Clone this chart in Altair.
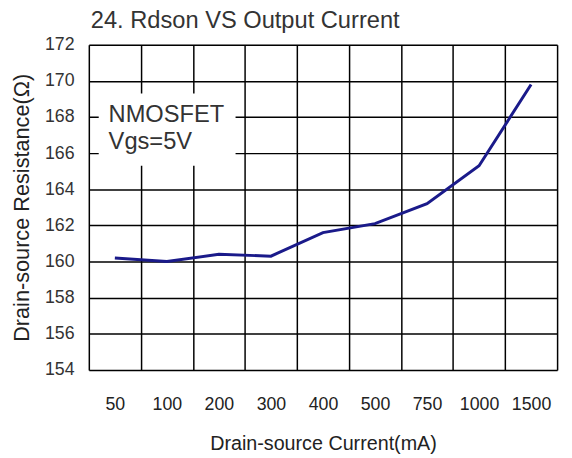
import json
import altair as alt
import pandas as pd

categories = ["50", "100", "200", "300", "400", "500", "750", "1000", "1500"]
rdson = [160.2, 160.0, 160.4, 160.3, 161.6, 162.1, 163.2, 165.3, 169.8]
y_ticks = [154, 156, 158, 160, 162, 164, 166, 168, 170, 172]
note_lines = ["NMOSFET", "Vgs=5V"]
note_y = [168.1, 166.6]

df = pd.DataFrame({"cat": categories, "pos": [i + 0.5 for i in range(len(categories))], "r": rdson})
box = pd.DataFrame({"x": [0.19], "x2": [2.82], "y": [165.3], "y2": [169.3]})
notes = pd.DataFrame({"t": note_lines, "x": [0.38, 0.38], "y": note_y})

n = len(categories)
x_scale = alt.Scale(domain=[0, n], nice=False, zero=False)
y_scale = alt.Scale(domain=[154, 172], nice=False, zero=False)

label_expr = "datum.value % 1 == 0 ? '' : " + json.dumps(categories) + "[floor(datum.value)]"

x_axis = alt.Axis(
    values=[i * 0.5 for i in range(2 * n + 1)],
    labelExpr=label_expr,
    gridOpacity={"condition": {"test": "datum.value % 1 == 0", "value": 1}, "value": 0},
    grid=True,
    gridColor="black",
    gridWidth=1.5,
    ticks=False,
    domain=False,
    labelFlush=False,
    labelOverlap=False,
    labelBound=False,
    labelFont="Liberation Sans",
    labelFontSize=18,
    labelColor="#222222",
    labelPadding=26,
    title="Drain-source Current(mA)",
    titleFont="Liberation Sans",
    titleFontSize=20,
    titleFontWeight="normal",
    titleColor="#222222",
    titlePadding=21,
)

y_axis = alt.Axis(
    values=y_ticks,
    grid=True,
    gridColor="black",
    gridWidth=1.5,
    ticks=False,
    domain=False,
    labelOverlap=False,
    labelBound=False,
    labelFlush=False,
    labelFont="Liberation Sans",
    labelFontSize=18,
    labelColor="#333333",
    labelPadding=15,
    title="Drain-source Resistance(Ω)",
    titleFont="Liberation Sans",
    titleFontSize=22,
    titleFontWeight="normal",
    titleColor="#222222",
    titlePadding=11,
)

line = alt.Chart(df).mark_line(color="#1a1a8a", strokeWidth=3).encode(
    x=alt.X("pos:Q", scale=x_scale, axis=x_axis),
    y=alt.Y("r:Q", scale=y_scale, axis=y_axis),
)

rect = alt.Chart(box).mark_rect(fill="white").encode(
    x=alt.X("x:Q", scale=x_scale, axis=x_axis),
    x2="x2:Q",
    y=alt.Y("y:Q", scale=y_scale, axis=y_axis),
    y2="y2:Q",
)

text = alt.Chart(notes).mark_text(
    align="left", baseline="middle", font="Liberation Sans", fontSize=24, color="#333333"
).encode(
    x=alt.X("x:Q", scale=x_scale, axis=x_axis),
    y=alt.Y("y:Q", scale=y_scale, axis=y_axis),
    text="t:N",
)

chart = (
    alt.layer(line, rect, text)
    .properties(
        width=475,
        height=330,
        autosize=alt.AutoSizeParams(type="none"),
        padding={"left": 82, "top": 34, "right": 7, "bottom": 84},
        title=alt.Title(
            "24. Rdson VS Output Current",
            anchor="start",
            frame="group",
            dx=2,
            font="Liberation Sans",
            fontSize=24,
            fontWeight="normal",
            color="#333333",
            offset=3,
        ),
    )
    .configure_view(stroke="black", strokeWidth=2)
    .configure(background="white")
)

chart.save("out.html", embed_options={"renderer": "svg", "actions": False})
